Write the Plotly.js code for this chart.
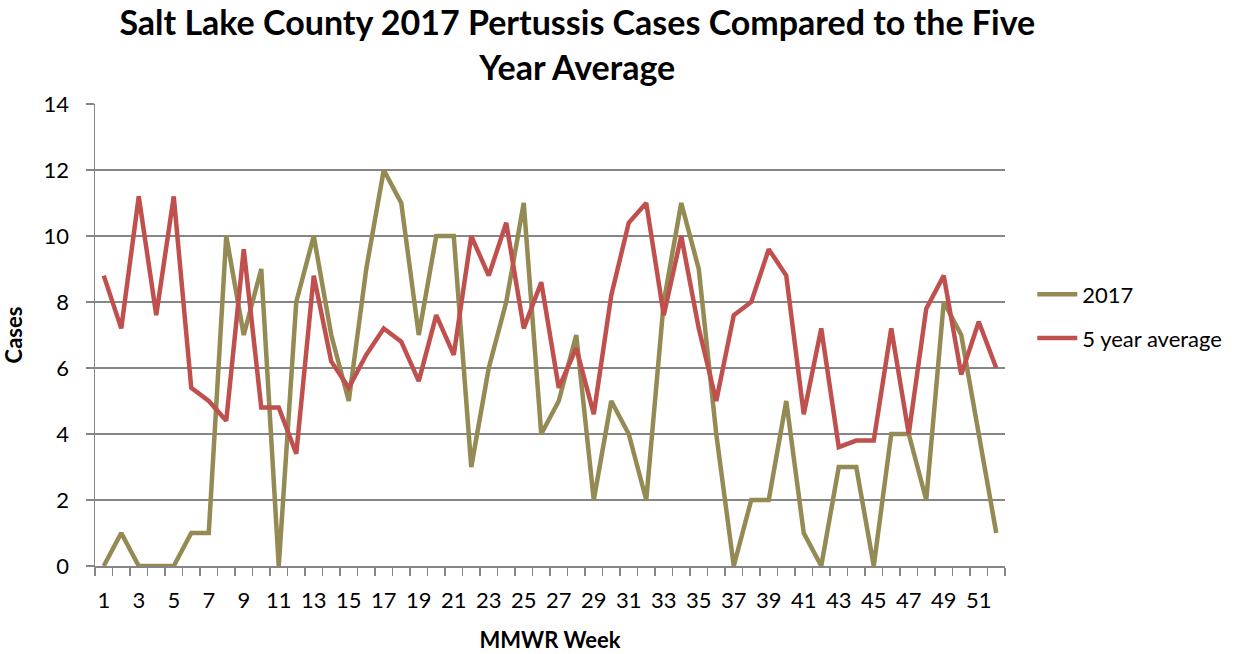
<!DOCTYPE html>
<html>
<head>
<meta charset="utf-8">
<script src="https://cdn.plot.ly/plotly-3.0.1.min.js"></script>
<style>
  html, body { margin: 0; padding: 0; background: #fff; }
  #chart { width: 1241px; height: 654px; }
</style>
</head>
<body>
<div id="chart"></div>
<script>
const weeks = Array.from({length: 52}, (_, i) => i + 1);
const cases2017 = [0,1,0,0,0,1,1,10,7,9,0,8,10,7,5,9,12,11,7,10,10,3,6,8,11,4,5,7,2,5,4,2,8,11,9,4,0,2,2,5,1,0,3,3,0,4,4,2,8,7,4,1];
const fiveYearAvg = [8.8,7.2,11.2,7.6,11.2,5.4,5.0,4.4,9.6,4.8,4.8,3.4,8.8,6.2,5.4,6.4,7.2,6.8,5.6,7.6,6.4,10,8.8,10.4,7.2,8.6,5.4,6.6,4.6,8.2,10.4,11,7.6,10,7.2,5.0,7.6,8,9.6,8.8,4.6,7.2,3.6,3.8,3.8,7.2,4,7.8,8.8,5.8,7.4,6.0];
const xTickVals = [1,3,5,7,9,11,13,15,17,19,21,23,25,27,29,31,33,35,37,39,41,43,45,47,49,51];
const xTickText = xTickVals.map(String);
const seriesNames = ['2017', '5 year average'];

const FONT = 'Lato, "Open Sans", sans-serif';

const traces = [
  {x: weeks, y: cases2017, name: seriesNames[0], type: 'scatter', mode: 'lines',
   legendgroup: 'a', line: {color: '#948A54', width: 4.5}},
  {x: weeks, y: fiveYearAvg, name: seriesNames[1], type: 'scatter', mode: 'lines',
   legendgroup: 'b', line: {color: '#C0504D', width: 4.5}}
];

const layout = {
  width: 1241, height: 654,
  margin: {l: 95, r: 236, t: 104, b: 88},
  paper_bgcolor: '#fff', plot_bgcolor: '#fff',
  font: {family: FONT, size: 22, color: '#000'},
  title: {
    text: '<b>Salt Lake County 2017 Pertussis Cases Compared to the Five<br>Year Average</b>',
    font: {family: FONT, size: 34, color: '#000'},
    xref: 'paper', x: 0.53, xanchor: 'center',
    yref: 'container', y: 0.946, yanchor: 'middle'
  },
  xaxis: {
    range: [0.5, 52.5],
    tickmode: 'array', tickvals: xTickVals, ticktext: xTickText,
    ticks: '', showgrid: false, zeroline: false,
    showline: true, linecolor: '#868686', linewidth: 1.5,
    tickfont: {family: FONT, size: 22, color: '#000'},
    ticklabelstandoff: 14,
    minor: {tick0: 0.5, dtick: 1, ticks: 'outside', ticklen: 8, tickcolor: '#868686', tickwidth: 1.5, showgrid: false},
    title: {text: '<b>MMWR Week</b>', font: {family: FONT, size: 22, color: '#000'}, standoff: 20}
  },
  yaxis: {
    range: [0, 14], dtick: 2, tick0: 0,
    showgrid: true, gridcolor: '#868686', gridwidth: 1.5,
    zeroline: false,
    showline: true, linecolor: '#868686', linewidth: 1.5,
    ticks: 'outside', ticklen: 8, tickcolor: '#868686', tickwidth: 1.5,
    tickfont: {family: FONT, size: 22, color: '#000'},
    ticklabelstandoff: 12,
    title: {text: '<b>Cases</b>', font: {family: FONT, size: 22, color: '#000'}, standoff: 19}
  },
  legend: {
    x: 1.03, xanchor: 'left', y: 0.54, yanchor: 'middle',
    font: {family: FONT, size: 22, color: '#000'},
    tracegroupgap: 12, itemwidth: 40,
    bgcolor: 'rgba(0,0,0,0)'
  },
  showlegend: true
};

Plotly.newPlot('chart', traces, layout, {displayModeBar: false, staticPlot: true});
</script>
</body>
</html>
